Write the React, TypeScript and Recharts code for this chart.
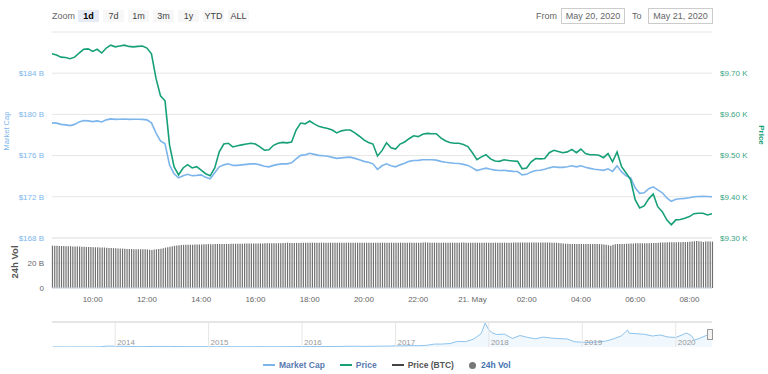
import React from 'react';
import {
  LineChart,
  Line,
  BarChart,
  Bar,
  AreaChart,
  Area,
  XAxis,
  YAxis,
  CartesianGrid,
  ReferenceLine,
} from 'recharts';

/* ---- data: 20 May 2020 08:30 -> 21 May 2020 08:50 ---- */

const START_HOUR = 8.5; // hours since 20 May 00:00
const END_HOUR = 8.5 + 146 / 6;

// price (USD), one point every 10 minutes
const price: number[] = [
  9747, 9744, 9739, 9738, 9735, 9739, 9749, 9758, 9759, 9753, 9758, 9749,
  9761, 9768, 9764, 9766, 9768, 9765, 9764, 9765, 9766, 9761, 9747, 9688,
  9645, 9633, 9526, 9473, 9453, 9470, 9478, 9470, 9473, 9465, 9456, 9451,
  9470, 9509, 9528, 9530, 9521, 9524, 9526, 9528, 9530, 9528, 9521, 9513,
  9514, 9525, 9530, 9532, 9531, 9533, 9562, 9579, 9577, 9584, 9577, 9571,
  9568, 9566, 9562, 9555, 9560, 9562, 9562, 9555, 9547, 9538, 9532, 9528,
  9499, 9512, 9531, 9519, 9516, 9528, 9533, 9541, 9548, 9546, 9552, 9554,
  9553, 9553, 9543, 9536, 9532, 9530, 9530, 9527, 9522, 9507, 9490, 9497,
  9502, 9492, 9487, 9486, 9490, 9488, 9487, 9486, 9468, 9470, 9485, 9493,
  9492, 9493, 9507, 9513, 9510, 9507, 9509, 9515, 9507, 9516, 9505, 9502,
  9502, 9501, 9495, 9505, 9485, 9509, 9473, 9458, 9441, 9393, 9373, 9378,
  9395, 9407, 9376, 9364, 9344, 9332, 9344, 9345, 9348, 9352, 9359, 9360,
  9360, 9356, 9359,
];

// market cap (billion USD), same timestamps as price
const marketCap: number[] = [
  179.18, 179.15, 179.03, 178.98, 178.91, 179.03, 179.27, 179.4, 179.37, 179.3, 179.37, 179.27,
  179.47, 179.56, 179.52, 179.53, 179.56, 179.52, 179.53, 179.53, 179.52, 179.47, 179.18, 178.21,
  177.43, 177.14, 175.1, 174.23, 173.84, 174.04, 174.18, 174.04, 174.08, 174.13, 173.89, 173.75,
  174.33, 174.91, 175.1, 175.2, 175.05, 175.05, 175.1, 175.15, 175.2, 175.2, 175.1, 174.96,
  174.91, 175.05, 175.15, 175.2, 175.2, 175.3, 175.68, 176.02, 176.07, 176.22, 176.12, 176.02,
  175.98, 175.93, 175.83, 175.73, 175.78, 175.83, 175.85, 175.73, 175.59, 175.44, 175.35, 175.2,
  174.67, 175.01, 175.2, 175.01, 174.91, 175.1, 175.25, 175.44, 175.52, 175.54, 175.59, 175.59,
  175.59, 175.56, 175.44, 175.35, 175.3, 175.25, 175.23, 175.15, 175.05, 174.81, 174.55, 174.67,
  174.78, 174.67, 174.59, 174.55, 174.57, 174.52, 174.47, 174.45, 174.13, 174.18, 174.42, 174.55,
  174.57, 174.67, 174.81, 174.91, 174.86, 174.86, 174.91, 175.01, 174.91, 175.01, 174.86, 174.76,
  174.67, 174.62, 174.57, 174.72, 174.47, 175.01, 174.42, 174.04, 173.84, 172.87, 172.34, 172.39,
  172.78, 172.97, 172.68, 172.39, 171.9, 171.56, 171.76, 171.81, 171.85, 171.9, 172.0, 172.03,
  172.05, 172.03, 172.0,
];

// 24h volume (billion USD), one bar every 5 minutes, one row per hour
const volume: number[] = [
  33.9, 33.8, 33.8, 33.7, 33.6, 33.7, 33.5, 33.4, 33.4, 33.3, 33.2, 33.2,
  33.1, 33.0, 33.0, 32.9, 32.8, 32.8, 32.7, 32.6, 32.6, 32.5, 32.4, 32.4,
  32.2, 32.1, 32.0, 31.9, 31.8, 31.7, 31.6, 31.5, 31.4, 31.3, 31.2, 31.2,
  31.1, 31.1, 31.0, 31.0, 31.0, 31.1, 30.9, 30.6, 30.4, 30.8, 31.0, 31.2,
  31.5, 31.9, 32.3, 32.6, 33.0, 33.4, 33.8, 34.0, 34.2, 34.4, 34.5, 34.6,
  34.6, 34.7, 34.7, 34.8, 34.8, 34.9, 34.9, 35.0, 35.0, 35.1, 35.1, 35.1,
  35.2, 35.2, 35.2, 35.2, 35.3, 35.3, 35.3, 35.4, 35.4, 35.4, 35.5, 35.5,
  35.5, 35.6, 35.6, 35.6, 35.6, 35.7, 35.7, 35.7, 35.7, 35.7, 35.8, 35.8,
  35.8, 35.8, 35.8, 35.9, 35.9, 35.9, 36.0, 36.0, 36.3, 36.1, 36.0, 36.1,
  36.1, 36.1, 36.2, 36.2, 36.2, 36.2, 36.2, 36.3, 36.2, 36.2, 36.2, 36.3,
  36.3, 36.2, 36.3, 36.3, 36.2, 36.3, 36.3, 36.3, 36.2, 36.3, 36.3, 36.3,
  36.3, 36.3, 36.2, 36.3, 36.3, 36.3, 36.3, 36.2, 36.3, 36.3, 36.2, 36.3,
  36.2, 36.3, 36.3, 36.2, 36.3, 36.3, 36.3, 36.2, 36.2, 36.3, 36.3, 36.3,
  36.3, 36.2, 36.3, 36.3, 36.3, 36.2, 36.3, 36.3, 36.4, 36.5, 36.4, 36.3,
  36.3, 36.3, 36.2, 36.3, 36.3, 36.3, 36.2, 36.3, 36.3, 36.3, 36.2, 36.3,
  36.3, 36.3, 36.4, 36.3, 36.3, 36.3, 36.2, 36.3, 36.3, 36.2, 36.3, 36.3,
  36.3, 36.2, 36.3, 36.3, 36.3, 36.3, 36.2, 36.3, 36.3, 36.3, 36.2, 36.3,
  36.4, 36.4, 36.4, 36.4, 36.5, 36.4, 36.4, 36.4, 36.4, 36.4, 36.5, 36.4,
  36.4, 36.4, 36.4, 36.4, 36.4, 36.3, 36.3, 36.2, 36.0, 35.8, 35.6, 35.5,
  35.4, 35.3, 35.2, 35.2, 35.2, 35.2, 35.2, 35.2, 35.2, 35.2, 35.2, 35.2,
  35.2, 35.2, 35.1, 35.0, 34.8, 34.6, 34.2, 33.8, 34.6, 35.1, 35.2, 35.2,
  35.2, 35.3, 35.4, 35.5, 35.6, 35.7, 35.8, 35.8, 35.8, 35.8, 35.9, 35.9,
  35.9, 36.0, 36.0, 36.1, 36.3, 36.4, 36.5, 36.5, 36.6, 36.6, 36.6, 36.6,
  36.6, 36.7, 36.7, 36.8, 36.8, 36.9, 37.0, 37.2, 37.5, 37.6, 37.4, 37.2,
  36.8, 37.2, 37.3, 37.2, 37.1,
];

const timeTicks = [10, 12, 14, 16, 18, 20, 22, 24, 26, 28, 30, 32];
const capTicks = [168, 172, 176, 180, 184, 188];
const priceTicks = [9300, 9400, 9500, 9600, 9700, 9800];
const volTicks = [0, 20, 40];

// navigator: whole history of market cap (billion USD)
const navDates: string[] = [
  '2013-05-01', '2013-06-01', '2013-07-01', '2013-08-01', '2013-09-01', '2013-10-01', '2013-11-01', '2013-12-04',
  '2014-01-01', '2014-02-01', '2014-03-01', '2014-04-01', '2014-05-01', '2014-06-01', '2014-07-01', '2014-08-01',
  '2014-09-01', '2014-10-01', '2014-11-01', '2014-12-01', '2015-01-01', '2015-02-01', '2015-03-01', '2015-04-01',
  '2015-05-01', '2015-06-01', '2015-07-01', '2015-08-01', '2015-09-01', '2015-10-01', '2015-11-01', '2015-12-01',
  '2016-01-01', '2016-02-01', '2016-03-01', '2016-04-01', '2016-05-01', '2016-06-01', '2016-07-01', '2016-08-01',
  '2016-09-01', '2016-10-01', '2016-11-01', '2016-12-01', '2017-01-01', '2017-02-01', '2017-03-01', '2017-04-01',
  '2017-05-01', '2017-06-01', '2017-07-01', '2017-08-01', '2017-09-01', '2017-10-01', '2017-11-01', '2017-12-01',
  '2017-12-17', '2018-01-01', '2018-01-16', '2018-02-01', '2018-03-01', '2018-04-01', '2018-05-01', '2018-06-01',
  '2018-07-01', '2018-08-01', '2018-09-01', '2018-10-01', '2018-11-01', '2018-12-01', '2019-01-01', '2019-02-01',
  '2019-03-01', '2019-04-01', '2019-05-01', '2019-06-01', '2019-06-26', '2019-07-01', '2019-08-01', '2019-09-01',
  '2019-10-01', '2019-11-01', '2019-12-01', '2020-01-01', '2020-02-01', '2020-02-13', '2020-03-01', '2020-03-13',
  '2020-04-01', '2020-05-01', '2020-05-21',
];
const navCap: number[] = [
  1.5, 1.3, 1.0, 1.2, 1.5, 1.6, 2.4, 13.0,
  9.2, 10.0, 7.0, 5.5, 5.6, 8.0, 8.0, 7.6,
  6.4, 5.2, 4.5, 5.1, 4.3, 3.1, 3.5, 3.5,
  3.3, 3.2, 3.8, 4.2, 3.4, 3.6, 4.8, 5.3,
  6.5, 5.8, 6.5, 6.5, 7.1, 8.4, 10.3, 10.5,
  9.0, 9.8, 11.7, 11.8, 15.5, 15.9, 19.3, 17.6,
  22.8, 39.4, 40.0, 47.1, 76.6, 72.7, 106.0, 180.0,
  326.0, 230.0, 190.0, 170.0, 175.0, 117.0, 156.0, 130.0,
  112.0, 135.0, 121.0, 114.0, 110.0, 72.0, 65.0, 62.0,
  70.0, 80.0, 110.0, 151.0, 230.0, 188.0, 180.0, 172.0,
  150.0, 163.0, 136.0, 130.0, 172.0, 190.0, 155.0, 93.0,
  116.0, 160.0, 181.0,
];
const navYears = [2014, 2015, 2016, 2017, 2018, 2019, 2020];

const zoomButtons = ['1d', '7d', '1m', '3m', '1y', 'YTD', 'ALL'];

/* ---- colours ---- */
const CAP_COLOR = '#7cb5ec';
const PRICE_COLOR = '#17a078';
const VOL_COLOR = '#707070';
const GRID = '#e6e6e6';
const FONT = "'Liberation Sans', Arial, sans-serif";
const NBSP = '\u00a0';

const mainRows = price.map((p, i) => ({ t: START_HOUR + i / 6, price: p, cap: marketCap[i] }));
const volRows = volume.map((v, i) => ({ t: START_HOUR + i / 12, vol: v }));

const toYear = (d: string) => {
  const [y, m, day] = d.split('-').map(Number);
  return y + (m - 1) / 12 + (day - 1) / 365;
};
const navRows = navDates.map((d, i) => ({ yr: toYear(d), cap: navCap[i] }));

const fmtTime = (t: number) => {
  if (t === 24) return `21.${NBSP}May`;
  const h = t % 24;
  return `${h < 10 ? '0' : ''}${h}:00`;
};

const abs = (left: number, top: number): React.CSSProperties => ({ position: 'absolute', left, top });

export default function App() {
  return (
    <div style={{ position: 'relative', width: 768, height: 374, background: '#fff', fontFamily: FONT, overflow: 'hidden' }}>
      <style>{'body{margin:0}'}</style>

      {/* toolbar */}
      <div style={{ ...abs(52, 10), fontSize: 9, color: '#666', lineHeight: '12px' }}>Zoom</div>
      <div style={{ ...abs(78, 10), display: 'flex' }}>
        {zoomButtons.map((b, i) => (
          <div
            key={b}
            style={{
              width: 21,
              height: 12,
              marginRight: 4,
              background: i === 0 ? '#e6ebf5' : '#f7f7f7',
              fontSize: 9,
              lineHeight: '12px',
              textAlign: 'center',
              color: i === 0 ? '#000' : '#444',
              fontWeight: i === 0 ? 'bold' : 'normal',
            }}
          >
            {b}
          </div>
        ))}
      </div>
      <div style={{ ...abs(536, 10), fontSize: 9, color: '#666', lineHeight: '12px' }}>From</div>
      <div style={{ ...abs(561, 8), width: 62, height: 14, border: '1px solid #ccc', fontSize: 9, color: '#666', lineHeight: '14px', textAlign: 'center' }}>
        May 20, 2020
      </div>
      <div style={{ ...abs(632, 10), fontSize: 9, color: '#666', lineHeight: '12px' }}>To</div>
      <div style={{ ...abs(648, 8), width: 63, height: 14, border: '1px solid #ccc', fontSize: 9, color: '#666', lineHeight: '14px', textAlign: 'center' }}>
        May 21, 2020
      </div>

      {/* price + market cap panel */}
      <div style={abs(0, 0)}>
        <LineChart width={768} height={250} data={mainRows} margin={{ top: 32, right: 8, bottom: 12, left: 8 }}>
          <CartesianGrid stroke={GRID} vertical={false} yAxisId="cap" />
          <XAxis dataKey="t" type="number" domain={[START_HOUR, END_HOUR]} hide />
          <YAxis
            yAxisId="cap"
            width={44}
            domain={[168, 188]}
            ticks={capTicks}
            interval={0}
            axisLine={false}
            tickLine={false}
            tick={{ fontSize: 8, fill: CAP_COLOR }}
            tickFormatter={(v: number) => (v === 188 ? '' : `$${v}${NBSP}B`)}
          />
          <YAxis
            yAxisId="price"
            orientation="right"
            width={48}
            domain={[9300, 9800]}
            ticks={priceTicks}
            interval={0}
            axisLine={false}
            tickLine={false}
            tick={{ fontSize: 8, fill: '#3aa583', textAnchor: 'start' }}
            tickFormatter={(v: number) => (v === 9800 ? '' : `$${(v / 1000).toFixed(2)}${NBSP}K`)}
          />
          <Line yAxisId="cap" type="linear" dataKey="cap" stroke={CAP_COLOR} strokeWidth={1.6} dot={false} isAnimationActive={false} />
          <Line yAxisId="price" type="linear" dataKey="price" stroke={PRICE_COLOR} strokeWidth={1.6} dot={false} isAnimationActive={false} />
        </LineChart>
      </div>

      {/* volume panel */}
      <div style={abs(0, 0)}>
        <BarChart width={768} height={310} data={volRows} margin={{ top: 238, right: 56, bottom: 0, left: 8 }}>
          <CartesianGrid stroke={GRID} vertical={false} />
          <XAxis
            dataKey="t"
            type="number"
            domain={[START_HOUR, END_HOUR]}
            ticks={timeTicks}
            interval={0}
            height={22}
            stroke="#ccd6eb"
            tickLine={false}
            tick={{ fontSize: 8, fill: '#666' }}
            tickFormatter={fmtTime}
          />
          <YAxis
            width={44}
            domain={[0, 40]}
            ticks={volTicks}
            interval={0}
            axisLine={false}
            tickLine={false}
            tick={{ fontSize: 8, fill: '#666' }}
            tickFormatter={(v: number) => (v === 40 ? '' : v === 0 ? '0' : `${v}${NBSP}B`)}
          />
          <Bar dataKey="vol" fill={VOL_COLOR} barSize={1.2} isAnimationActive={false} />
        </BarChart>
      </div>

      {/* navigator */}
      <div style={abs(0, 0)}>
        <AreaChart width={768} height={347} data={navRows} margin={{ top: 322, right: 56, bottom: 0, left: 52 }}>
          <XAxis dataKey="yr" type="number" domain={[toYear('2013-04-28'), toYear('2020-05-21')]} hide />
          <YAxis domain={[0, 340]} hide />
          <ReferenceLine y={340} stroke="#cccccc" />
          {navYears.map((y) => (
            <ReferenceLine
              key={y}
              x={y}
              stroke={GRID}
              label={{ value: String(y), position: 'insideBottomLeft', offset: 2, fill: '#999', fontSize: 8 }}
            />
          ))}
          <Area
            type="linear"
            dataKey="cap"
            stroke="#8ec3ec"
            strokeWidth={1}
            fill="#e9f3fc"
            fillOpacity={0.7}
            isAnimationActive={false}
          />
        </AreaChart>
      </div>
      {/* navigator handle */}
      <div style={{ ...abs(707, 329), width: 4, height: 9, border: '1px solid #999', background: '#f2f2f2' }} />

      {/* axis titles */}
      <div style={{ ...abs(6, 131), transform: 'translate(-50%,-50%) rotate(-90deg)', fontSize: 7.5, color: CAP_COLOR, whiteSpace: 'nowrap' }}>
        Market Cap
      </div>
      <div style={{ ...abs(14, 262), transform: 'translate(-50%,-50%) rotate(-90deg)', fontSize: 9.5, fontWeight: 'bold', color: '#555', whiteSpace: 'nowrap' }}>
        24h Vol
      </div>
      <div style={{ ...abs(761, 135), transform: 'translate(-50%,-50%) rotate(90deg)', fontSize: 8, fontWeight: 'bold', color: PRICE_COLOR, whiteSpace: 'nowrap' }}>
        Price
      </div>

      {/* legend */}
      <div style={{ ...abs(263, 359), display: 'flex', alignItems: 'center', fontSize: 8.5, fontWeight: 'bold', lineHeight: '12px' }}>
        <span style={{ width: 12, height: 2, background: CAP_COLOR, marginRight: 4 }} />
        <span style={{ color: '#5a7bb0', marginRight: 15 }}>Market Cap</span>
        <span style={{ width: 12, height: 2, background: PRICE_COLOR, marginRight: 4 }} />
        <span style={{ color: '#5a7bb0', marginRight: 15 }}>Price</span>
        <span style={{ width: 12, height: 2, background: '#444', marginRight: 4 }} />
        <span style={{ color: '#555', marginRight: 15 }}>Price (BTC)</span>
        <span style={{ width: 7, height: 7, borderRadius: '50%', background: '#777', marginRight: 5 }} />
        <span style={{ color: '#4472b0' }}>24h Vol</span>
      </div>
    </div>
  );
}
